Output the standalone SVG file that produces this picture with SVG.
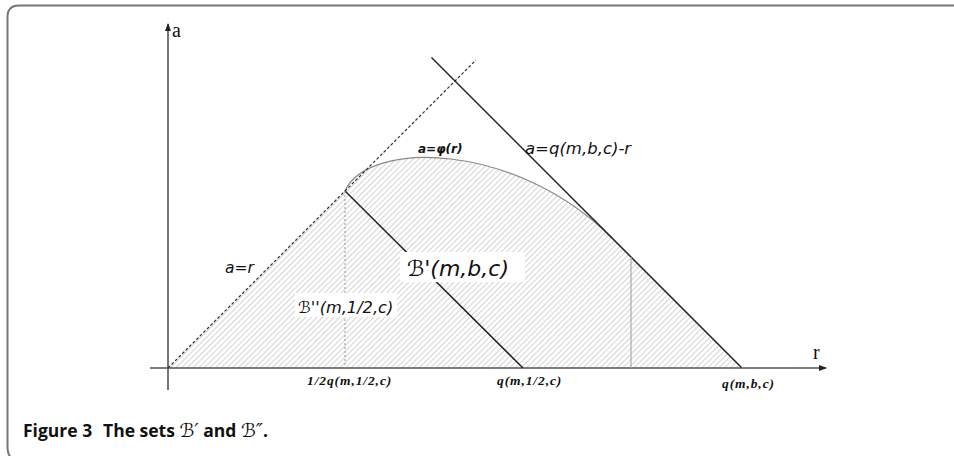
<svg xmlns="http://www.w3.org/2000/svg" width="954" height="456" viewBox="0 0 954 456">
<style>
.ax{stroke:#555;stroke-width:1.6;fill:none}
.blk{stroke:#222;stroke-width:1.5;fill:none}
.dash{stroke:#333;stroke-width:1.2;stroke-dasharray:3,2;fill:none}
.gv{stroke:#aaa;stroke-width:1.2;fill:none}
.gd{stroke:#999;stroke-width:1;stroke-dasharray:2,2;fill:none}
.sf{font-family:"DejaVu Sans","Liberation Sans",sans-serif;font-style:italic;fill:#111}
.tf{font-family:"Liberation Serif",serif;font-style:italic;font-weight:bold;fill:#111;font-size:13.5px;letter-spacing:0.9px}
.cap{font-family:"Open Sans","Liberation Sans",sans-serif;font-weight:bold;font-size:17.5px;fill:#111}
.bs{font-family:"DejaVu Sans",sans-serif;font-style:italic;font-weight:normal;font-size:19px}
</style>
<defs>
<pattern id="hatch" patternUnits="userSpaceOnUse" width="4" height="4" patternTransform="rotate(45)">
<line x1="0" y1="0" x2="0" y2="4" stroke="#b0b0b0" stroke-width="1.1"/>
</pattern>
<marker id="arr" viewBox="0 0 8 8" refX="7" refY="4" markerWidth="8" markerHeight="8" markerUnits="userSpaceOnUse" orient="auto">
<path d="M0,1 L8,4 L0,7 Z" fill="#222"/>
</marker>
</defs>
<path d="M954,5.5 H19 Q7.5,5.5 7.5,17 V446 Q7.5,456 12,458" fill="none" stroke="#777" stroke-width="2"/>
<g id="region">
<path d="M168,368 L345,191 C368,140 515,141 612,238 L741,368 Z" fill="url(#hatch)" stroke="none"/>
<path d="M345,191 C368,140 515,141 612,238" fill="none" stroke="#888" stroke-width="1.2"/>
</g>
<g id="connectors">
<line class="ax" x1="168" y1="390" x2="168" y2="24" marker-end="url(#arr)"/>
<line class="ax" x1="150" y1="368" x2="826" y2="368" marker-end="url(#arr)"/>
<line class="dash" x1="168" y1="368" x2="476" y2="60"/>
<line class="blk" x1="431.5" y1="57.5" x2="741.5" y2="367.5"/>
<line class="blk" x1="345" y1="191" x2="523" y2="368"/>
<line class="gd" x1="345" y1="191" x2="345" y2="368"/>
<line class="gv" x1="631" y1="257" x2="631" y2="368"/>
</g>
<g id="labels">
<text x="172" y="37" font-family="Liberation Serif,serif" font-size="20" fill="#111">a</text>
<text x="813" y="359" font-family="Liberation Serif,serif" font-size="20" fill="#111">r</text>
<text class="sf" x="418" y="153" font-size="12" font-weight="bold">a=φ(r)</text>
<text class="sf" x="525" y="154" font-size="16.5">a=q(m,b,c)-r</text>
<text class="sf" x="225" y="273" font-size="15.5">a=r</text>
<g id="Bprime">
<rect x="400" y="252" width="125" height="30" fill="#fff"/>
<text class="sf" x="407" y="276" font-size="22">ℬ'(m,b,c)</text>
</g>
<g id="Bsecond">
<rect x="295" y="293" width="102" height="24" fill="#fff"/>
<text class="sf" x="298" y="313" font-size="16.2">ℬ''(m,1/2,c)</text>
</g>
<text class="tf" x="307" y="385">1/2q(m,1/2,c)</text>
<text class="tf" x="497" y="385">q(m,1/2,c)</text>
<text class="tf" x="722" y="388">q(m,b,c)</text>
<text class="cap" x="23" y="437">Figure 3</text>
<text class="cap" x="103" y="437">The sets <tspan class="bs">ℬ′</tspan> and <tspan class="bs">ℬ″</tspan>.</text>
</g>
</svg>
